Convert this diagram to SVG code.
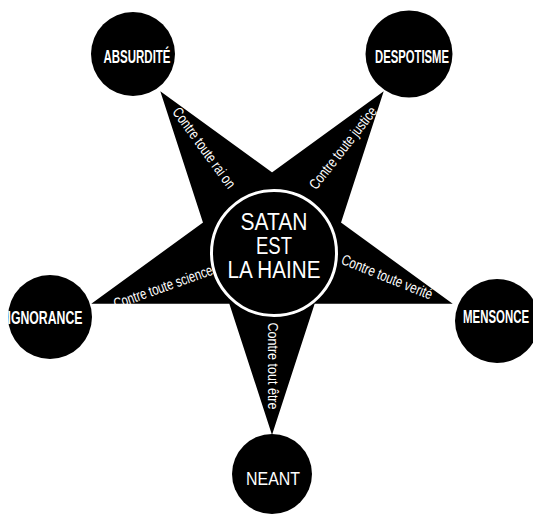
<svg xmlns="http://www.w3.org/2000/svg" width="533" height="518" viewBox="0 0 533 518">
<style>
.node{fill:#000}
.nt{fill:#fff;font-family:"Liberation Sans Narrow","Liberation Sans",Arial,sans-serif;font-size:17.5px;font-weight:bold;text-anchor:middle}
.arm{fill:#fff;font-family:"Liberation Sans Narrow","Liberation Sans",Arial,sans-serif;font-size:15px;text-anchor:middle}
.ct{fill:#fff;font-family:"Liberation Sans Narrow","Liberation Sans",Arial,sans-serif;font-size:23.5px;text-anchor:middle}
</style>
<rect width="533" height="518" fill="#fff"/>
<g id="connectors">
<polygon points="272,435 160.3,91.3 452.7,303.7 91.3,303.7 383.7,91.3" fill="#000" fill-rule="nonzero"/>
<text class="arm" transform="translate(204,148) rotate(54)" x="0" y="5" textLength="96" lengthAdjust="spacingAndGlyphs">Contre toute rai on</text>
<text class="arm" transform="translate(343,148) rotate(-52)" x="0" y="5" textLength="100" lengthAdjust="spacingAndGlyphs">Contre toute justice</text>
<text class="arm" transform="translate(163,287) rotate(-19.5)" x="0" y="5" textLength="104" lengthAdjust="spacingAndGlyphs">Contre toute science</text>
<text class="arm" transform="translate(387,277) rotate(22)" x="0" y="5" textLength="97" lengthAdjust="spacingAndGlyphs">Contre toute verité</text>
<text class="arm" transform="translate(273,366) rotate(90)" x="0" y="5" textLength="87" lengthAdjust="spacingAndGlyphs">Contre tout être</text>
</g>
<g id="center">
<circle cx="274" cy="253" r="62.5" fill="#000" stroke="#fff" stroke-width="3"/>
<text class="ct" x="274" y="230" textLength="67" lengthAdjust="spacingAndGlyphs">SATAN</text>
<text class="ct" x="274" y="254" textLength="36" lengthAdjust="spacingAndGlyphs">EST</text>
<text class="ct" x="274" y="278" textLength="93" lengthAdjust="spacingAndGlyphs">LA HAINE</text>
</g>
<g id="absurdite">
<circle class="node" cx="133" cy="54" r="42"/>
<text class="nt" x="137" y="62.7" textLength="67" lengthAdjust="spacingAndGlyphs">ABSURDITÉ</text>
</g>
<g id="despotisme">
<circle class="node" cx="409" cy="54" r="43.5"/>
<text class="nt" x="412" y="62.7" textLength="74" lengthAdjust="spacingAndGlyphs">DESPOTISME</text>
</g>
<g id="ignorance">
<circle class="node" cx="50" cy="317" r="42"/>
<text class="nt" x="45" y="324" textLength="75" lengthAdjust="spacingAndGlyphs">IGNORANCE</text>
</g>
<g id="mensonce">
<circle class="node" cx="497" cy="321" r="42"/>
<text class="nt" x="496" y="323.3" textLength="66" lengthAdjust="spacingAndGlyphs">MENSONCE</text>
</g>
<g id="neant">
<circle class="node" cx="272" cy="474" r="40"/>
<text class="nt" x="273" y="485" textLength="54" lengthAdjust="spacingAndGlyphs" style="font-weight:normal">NEANT</text>
</g>
</svg>
